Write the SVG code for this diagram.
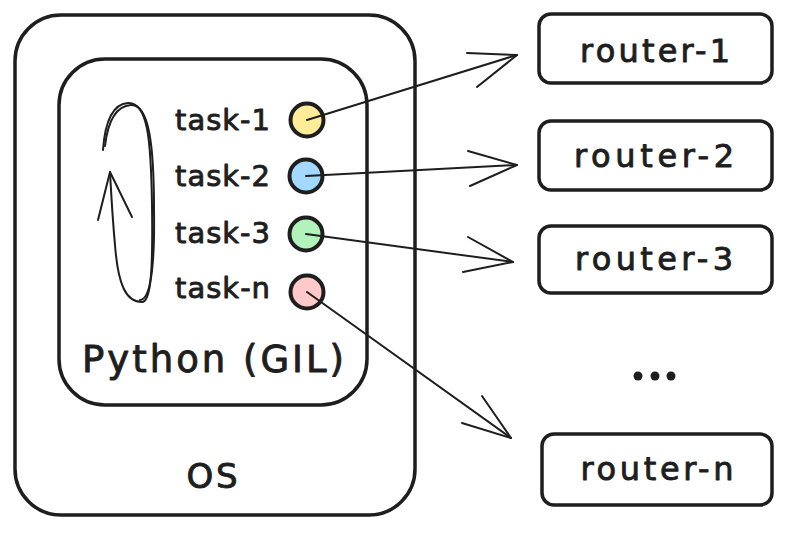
<svg xmlns="http://www.w3.org/2000/svg" width="798" height="536" viewBox="0 0 798 536">
<style>
.box{fill:none;stroke:#1e1e1e;stroke-width:3.5;stroke-linejoin:round}
.dot{stroke:#1e1e1e;stroke-width:4}
.ln{fill:none;stroke:#1e1e1e;stroke-width:2;stroke-linecap:round;stroke-linejoin:round}
.lbl{font-family:"DejaVu Sans",sans-serif;fill:#1e1e1e;stroke:#1e1e1e;stroke-width:0.9;stroke-linejoin:round}
.task{font-size:29px}
.rt{font-size:32px;text-anchor:middle}
</style>
<rect width="798" height="536" fill="#ffffff"/>
<g id="os">
<rect class="box" x="15" y="15" width="400" height="500" rx="46"/>
<text class="lbl" x="212" y="488" font-size="34" text-anchor="middle" textLength="51">OS</text>
</g>
<g id="python">
<rect class="box" x="59" y="59" width="308" height="346" rx="46"/>
<text class="lbl" x="213" y="372" font-size="37" text-anchor="middle" textLength="262">Python (GIL)</text>
<path class="ln" d="M103,150 C105,122 113,104 128,103 C148,102 151,140 152,205 C153,270 151,302 142,302 C126,302 118,285 115,245 C112,212 111,190 110,172"/>
<path class="ln" d="M105,146 C108,120 116,106 131,105 C149,104 154,145 154,210 C155,275 149,300 140,300"/>
<polyline class="ln" points="98,220 110,172 132,217"/>
</g>
<g id="task-1">
<text class="lbl task" x="175" y="130" textLength="95">task-1</text>
<circle class="dot" cx="307" cy="120" r="16.5" fill="#ffec99"/>
</g>
<g id="task-2">
<text class="lbl task" x="175" y="186" textLength="95">task-2</text>
<circle class="dot" cx="306" cy="176" r="16.5" fill="#a5d8ff"/>
</g>
<g id="task-3">
<text class="lbl task" x="175" y="243" textLength="95">task-3</text>
<circle class="dot" cx="306" cy="234" r="16.5" fill="#b2f2bb"/>
</g>
<g id="task-n">
<text class="lbl task" x="175" y="298" textLength="95">task-n</text>
<circle class="dot" cx="307" cy="292" r="16.5" fill="#ffc9c9"/>
</g>
<g id="router-1">
<rect class="box" x="539" y="14" width="233" height="69" rx="12"/>
<text class="lbl rt" x="655" y="62" textLength="150">router-1</text>
</g>
<g id="router-2">
<rect class="box" x="539" y="121" width="233" height="69" rx="12"/>
<text class="lbl rt" x="654" y="167" textLength="160">router-2</text>
</g>
<g id="router-3">
<rect class="box" x="539" y="226" width="233" height="67" rx="12"/>
<text class="lbl rt" x="654" y="270" textLength="158">router-3</text>
</g>
<g id="ellipsis">
<circle cx="638" cy="376" r="4.5" fill="#1e1e1e"/>
<circle cx="655" cy="376" r="4.5" fill="#1e1e1e"/>
<circle cx="671" cy="376" r="4.5" fill="#1e1e1e"/>
</g>
<g id="router-n">
<rect class="box" x="542" y="434" width="230" height="71" rx="12"/>
<text class="lbl rt" x="657" y="480" textLength="153">router-n</text>
</g>
<g id="connectors">
<line class="ln" x1="307" y1="120" x2="517" y2="55"/>
<polyline class="ln" points="467,53 517,55 477,87"/>
<line class="ln" x1="306" y1="176" x2="517" y2="165"/>
<polyline class="ln" points="468,151 517,165 470,186"/>
<line class="ln" x1="306" y1="234" x2="513" y2="262"/>
<polyline class="ln" points="468,237 513,262 463,272"/>
<line class="ln" x1="307" y1="292" x2="511" y2="438"/>
<polyline class="ln" points="482,396 511,438 462,423"/>
</g>
</svg>
